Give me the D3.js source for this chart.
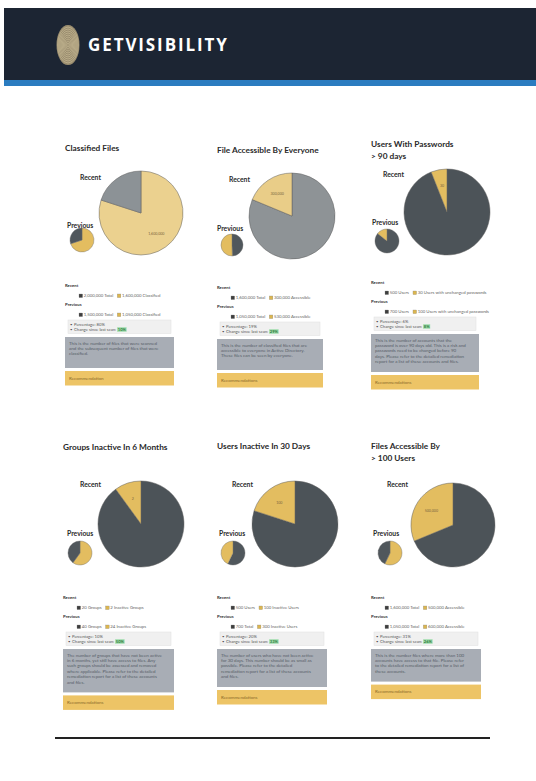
<html>
<head>
<script src="https://d3js.org/d3.v7.min.js"></script>
<style>
body {margin:0; background:#fff;}
text {font-family: Lato, "Open Sans", sans-serif;}
</style>
</head>
<body>
<svg id="page" width="536" height="781"></svg>
<script>
// chart values
var titles = [["Classified Files"], ["File Accessible By Everyone"], ["Users With Passwords", "> 90 days"],
              ["Groups Inactive In 6 Months"], ["Users Inactive In 30 Days"], ["Files Accessible By", "> 100 Users"]];
var recentTotal = [2000000, 1600000, 500, 20, 500, 1600000];
var recentPart = [1600000, 300000, 30, 2, 100, 500000];
var previousTotal = [1500000, 1050000, 700, 40, 700, 1050000];
var previousPart = [1050000, 530000, 100, 24, 300, 600000];
var recentLegend = [["2,000,000 Total", "1,600,000 Classified"], ["1,600,000 Total", "300,000 Accessible"],
                    ["500 Users", "30 Users with unchanged passwords"], ["20 Groups", "2 Inactive Groups"],
                    ["500 Users", "100 Inactive Users"], ["1,600,000 Total", "500,000 Accessible"]];
var previousLegend = [["1,500,000 Total", "1,050,000 Classified"], ["1,050,000 Total", "530,000 Accessible"],
                      ["700 Users", "100 Users with unchanged passwords"], ["40 Groups", "24 Inactive Groups"],
                      ["700 Total", "300 Inactive Users"], ["1,050,000 Total", "600,000 Accessible"]];
var percentages = ["80%", "19%", "6%", "10%", "20%", "31%"];
var changes = ["10%", "29%", "8%", "50%", "33%", "26%"];
var descriptions = [
  "This is the number of files that were scanned and the subsequent number of files that were classified.",
  "This is the number of classified files that are accessible to everyone in Active Directory. These files can be seen by everyone.",
  "This is the number of accounts that the password is over 90 days old. This is a risk and passwords need to be changed before 90 days. Please refer to the detailed remediation report for a list of these accounts and files.",
  "The number of groups that have not been active in 6 months, yet still have access to files. Any such groups should be assessed and removed where applicable. Please refer to the detailed remediation report for a list of these accounts and files.",
  "The number of users who have not been active for 30 days. This number should be as small as possible. Please refer to the detailed remediation report for a list of these accounts and files.",
  "This is the number files where more than 100 accounts have access to that file. Please refer to the detailed remediation report for a list of these accounts."];
var recommendations = ["Recommendation", "Recommendations", "Recommendations", "Recommendations", "Recommendations", "Recommendations"];
var recentPartFirst = [true, false, false, false, false, false];
var previousPartFirst = [true, false, false, true, false, true];

// layout
var layout = [
  {x:65,  title:151, recent:[80,180],  big:[141,213,42], prev:[67,228],  small:[82,240,12],  legend:287, w:109},
  {x:217, title:153, recent:[229,182], big:[292,216,43], prev:[217,231], small:[232,245,11], legend:289, w:106},
  {x:371, title:147, recent:[383,177], big:[447,212,43], prev:[372,225], small:[387,241,12], legend:284, w:108},
  {x:63,  title:450, recent:[80,487],  big:[141,524,43], prev:[67,536],  small:[80,553,12],  legend:599, w:111},
  {x:217, title:449, recent:[232,487], big:[295,524,43], prev:[219,536], small:[233,553,12], legend:599, w:110},
  {x:371, title:449, recent:[387,487], big:[453,525,42], prev:[373,536], small:[390,553,12], legend:599, w:110}
];
var recentColors = [["#ebd18f", "#8c9296"], ["#e9cd88", "#8e9396"]];
var darkCol = "#4c5358", yellowCol = "#e3bd60";

var svg = d3.select("#page");

// header
svg.append("rect").attr("x", 4).attr("y", 8).attr("width", 532).attr("height", 73).attr("fill", "#1c2533");
svg.append("rect").attr("x", 4).attr("y", 80).attr("width", 532).attr("height", 6).attr("fill", "#2b7cc0");
var logo = svg.append("g").attr("transform", "translate(68,45)");
logo.append("ellipse").attr("rx", 11.5).attr("ry", 20).attr("fill", "#9a8d6f");
d3.range(1, 10).forEach(function(i) {
  logo.append("ellipse").attr("rx", 11.5 * i / 10).attr("ry", 20 * i / 10)
    .attr("fill", "none").attr("stroke", "#d9caa2").attr("stroke-width", 0.5);
});
svg.append("text").attr("x", 88).attr("y", 51).text("GETVISIBILITY")
  .attr("fill", "#fff").style("font-family", "'Open Sans'").style("font-weight", 700)
  .style("font-size", "17px").style("letter-spacing", "1.9px");

// bottom rule
svg.append("line").attr("x1", 55).attr("x2", 490).attr("y1", 738).attr("y2", 738)
  .attr("stroke", "#222").attr("stroke-width", 2);

var pie = d3.pie().sort(null).value(function(d) { return d.v; });
var fmt = d3.format(",");

function wrap(g, str, width, x, y, lh, size, color) {
  var words = str.split(" "), line = [], n = 0;
  var t = g.append("text").attr("x", x).attr("y", y).style("font-size", size).attr("fill", color);
  var ts = t.append("tspan").attr("x", x).attr("y", y);
  words.forEach(function(w) {
    line.push(w);
    ts.text(line.join(" "));
    if (ts.node().getComputedTextLength() > width && line.length > 1) {
      line.pop(); ts.text(line.join(" "));
      line = [w]; n++;
      ts = t.append("tspan").attr("x", x).attr("y", y + n * lh).text(w);
    }
  });
  return n + 1;
}

layout.forEach(function(L, i) {
  var g = svg.append("g");
  titles[i].forEach(function(t, k) {
    g.append("text").attr("x", L.x).attr("y", L.title + k * 11.5).text(t)
      .style("font-size", "8.3px").style("font-weight", 700).attr("fill", "#2a2a2a");
  });
  g.append("text").attr("x", L.recent[0]).attr("y", L.recent[1]).text("Recent")
    .style("font-size", "6.8px").style("font-weight", 700).attr("fill", "#2a2a2a");
  g.append("text").attr("x", L.prev[0]).attr("y", L.prev[1]).text("Previous")
    .style("font-size", "6.8px").style("font-weight", 700).attr("fill", "#2a2a2a");

  // big pie
  var rc = recentColors[i] || [yellowCol, darkCol];
  var rData = [{v: recentPart[i], c: rc[0]}, {v: recentTotal[i] - recentPart[i], c: rc[1]}];
  if (!recentPartFirst[i]) rData.reverse();
  var arcBig = d3.arc().innerRadius(0).outerRadius(L.big[2]);
  var labelArc = d3.arc().innerRadius(L.big[2] * 0.62).outerRadius(L.big[2] * 0.62);
  var bg = g.append("g").attr("transform", "translate(" + L.big[0] + "," + L.big[1] + ")");
  var arcs = pie(rData);
  bg.selectAll("path").data(arcs).enter().append("path")
    .attr("d", arcBig).attr("fill", function(d) { return d.data.c; })
    .attr("stroke", "#5f5f5f").attr("stroke-width", 0.5);
  var partArc = arcs.filter(function(d) { return d.data.v === recentPart[i]; })[0];
  bg.append("text").attr("transform", "translate(" + labelArc.centroid(partArc) + ")")
    .attr("text-anchor", "middle").attr("dy", "0.35em").text(fmt(recentPart[i]))
    .style("font-size", "3.6px").attr("fill", "#7a6640");

  // small pie
  var pData = [{v: previousPart[i], c: yellowCol}, {v: previousTotal[i] - previousPart[i], c: "#50575c"}];
  if (!previousPartFirst[i]) pData.reverse();
  var arcSmall = d3.arc().innerRadius(0).outerRadius(L.small[2]);
  g.append("g").attr("transform", "translate(" + L.small[0] + "," + L.small[1] + ")")
    .selectAll("path").data(pie(pData)).enter().append("path")
    .attr("d", arcSmall).attr("fill", function(d) { return d.data.c; })
    .attr("stroke", "#6a6a6a").attr("stroke-width", 0.4);

  // legend
  var ly = L.legend;
  function legendRow(label, items, y) {
    g.append("text").attr("x", L.x).attr("y", y).text(label)
      .style("font-size", "4.3px").style("font-weight", 700).attr("fill", "#333");
    var lx = L.x + 14;
    items.forEach(function(txt, k) {
      g.append("rect").attr("x", lx).attr("y", y + 7).attr("width", 3.6).attr("height", 3.6)
        .attr("fill", k === 0 ? "#3e3e3e" : "#dcb64e").attr("stroke", "#888").attr("stroke-width", 0.3);
      var t = g.append("text").attr("x", lx + 4.8).attr("y", y + 10.4).text(txt)
        .style("font-size", "4.3px").attr("fill", "#666");
      lx += 4.8 + t.node().getComputedTextLength() + 4;
    });
  }
  legendRow("Recent", recentLegend[i], ly);
  legendRow("Previous", previousLegend[i], ly + 19);

  // bullets
  var by = ly + 33;
  g.append("rect").attr("x", L.x + 3).attr("y", by).attr("width", L.w - 6).attr("height", 13.5)
    .attr("fill", "#f0f0f0").attr("stroke", "#e0e0e0").attr("stroke-width", 0.5);
  g.append("text").attr("x", L.x + 5).attr("y", by + 5.6).text("\u2022").style("font-size", "4.2px").attr("fill", "#555");
  g.append("text").attr("x", L.x + 9).attr("y", by + 5.6).text("Percentage: " + percentages[i])
    .style("font-size", "4.2px").attr("fill", "#555");
  g.append("text").attr("x", L.x + 5).attr("y", by + 10.6).text("\u2022").style("font-size", "4.2px").attr("fill", "#555");
  var ct = g.append("text").attr("x", L.x + 9).attr("y", by + 10.6).text("Change since last scan: ")
    .style("font-size", "4.2px").attr("fill", "#555");
  var cx = L.x + 9 + ct.node().getComputedTextLength() + 1;
  var gt = g.append("text").attr("x", cx + 0.6).attr("y", by + 10.6).text(changes[i])
    .style("font-size", "4.2px").style("font-weight", 700).attr("fill", "#2e7d3c");
  var gw = gt.node().getComputedTextLength();
  g.insert("rect", function() { return gt.node(); }).attr("x", cx).attr("y", by + 7.2)
    .attr("width", gw + 1.2).attr("height", 4.6).attr("fill", "#a3deb0");

  // description
  var dy = by + 17;
  var dg = g.append("g");
  var dRect = dg.append("rect").attr("x", L.x).attr("y", dy).attr("width", L.w).attr("fill", "#a8adb5");
  var lines = wrap(dg, descriptions[i], L.w - 16, L.x + 4, dy + 7.5, 5.4, "4.5px", "#575d68");
  var dh = Math.max(31, 11 + lines * 5.4);
  dRect.attr("height", dh);

  // recommendation
  var ry = dy + dh + 3;
  g.append("rect").attr("x", L.x).attr("y", ry).attr("width", L.w).attr("height", 14.5).attr("fill", "#edc466");
  g.append("text").attr("x", L.x + 4).attr("y", ry + 8.7).text(recommendations[i])
    .style("font-size", "4.5px").attr("fill", "#8a6a2a");
});
</script>
</body>
</html>
